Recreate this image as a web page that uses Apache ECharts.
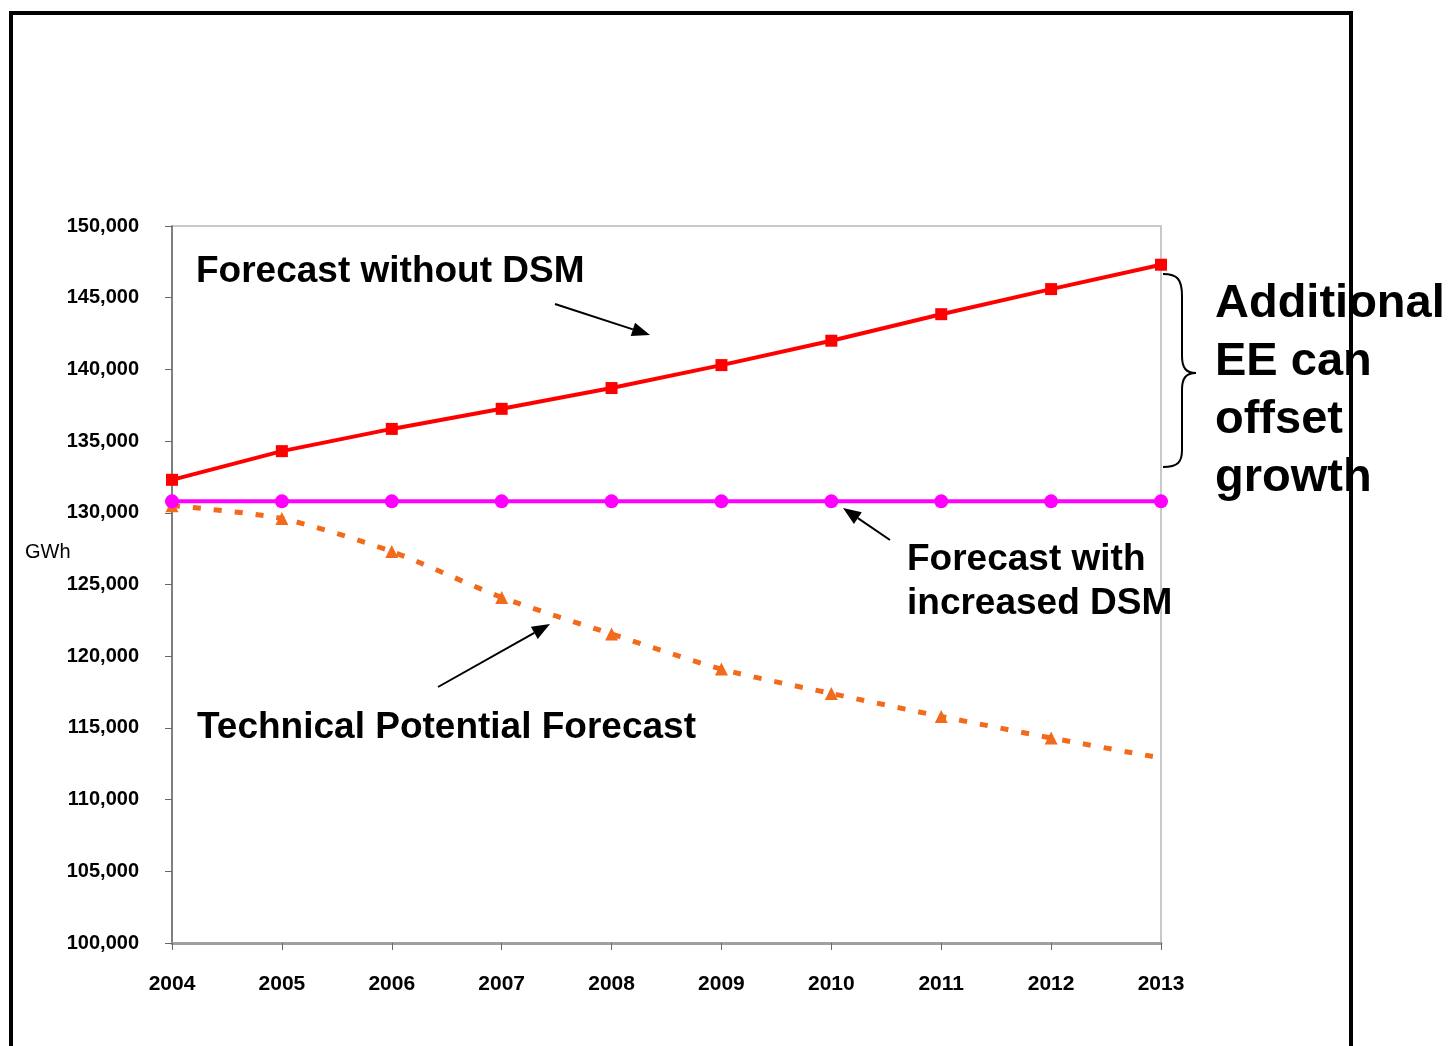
<!DOCTYPE html>
<html>
<head>
<meta charset="utf-8">
<script src="https://cdn.jsdelivr.net/npm/echarts@6/dist/echarts.min.js"></script>
<style>
  html, body { margin: 0; padding: 0; background: #fff; }
  #chart { width: 1450px; height: 1046px; }
</style>
</head>
<body>
<div id="chart"></div>
<script>
// data
const years = ['2004', '2005', '2006', '2007', '2008', '2009', '2010', '2011', '2012', '2013'];
const withoutDsm = [132300, 134300, 135850, 137250, 138700, 140300, 142000, 143850, 145600, 147300];
const increasedDsm = [130800, 130800, 130800, 130800, 130800, 130800, 130800, 130800, 130800, 130800];
const technicalPotential = [130500, 129600, 127300, 124100, 121550, 119100, 117400, 115800, 114300, 112900];

const FONT = '"Liberation Sans", Arial, sans-serif';

let myChart = echarts.init(document.getElementById('chart'));

// arrow = line + filled head
function arrow(x1, y1, x2, y2) {
  const ang = Math.atan2(y2 - y1, x2 - x1);
  const len = 18, half = 7;
  const bx = x2 - len * Math.cos(ang), by = y2 - len * Math.sin(ang);
  const px = -Math.sin(ang) * half, py = Math.cos(ang) * half;
  return [
    { type: 'line', z: 50, shape: { x1: x1, y1: y1, x2: bx, y2: by }, style: { stroke: '#000', lineWidth: 2 } },
    { type: 'polygon', z: 50, shape: { points: [[x2, y2], [bx + px, by + py], [bx - px, by - py]] }, style: { fill: '#000' } }
  ];
}

function label(text, x, y, size, weight) {
  return {
    type: 'text', z: 50, x: x, y: y,
    style: { text: text, font: (weight || 'bold') + ' ' + size + 'px ' + FONT, fill: '#000', textVerticalAlign: 'middle' }
  };
}

function curve(x1, y1, cx1, cy1, cx2, cy2, x2, y2) {
  return {
    type: 'bezierCurve', z: 50,
    shape: { x1: x1, y1: y1, cpx1: cx1, cpy1: cy1, cpx2: cx2, cpy2: cy2, x2: x2, y2: y2 },
    style: { stroke: '#000', lineWidth: 2, fill: 'none' }
  };
}

function seg(x1, y1, x2, y2) {
  return { type: 'line', z: 50, shape: { x1: x1, y1: y1, x2: x2, y2: y2 }, style: { stroke: '#000', lineWidth: 2 } };
}

const techData = technicalPotential.map((v, i) => i === technicalPotential.length - 1 ? { value: v, symbol: 'none' } : v);

let option = {
  backgroundColor: '#ffffff',
  animation: false,
  grid: {
    left: 172,
    right: 289,
    top: 226,
    bottom: 103,
    show: true,
    borderColor: '#b8b8b8',
    borderWidth: 1.5
  },
  xAxis: {
    type: 'category',
    data: years,
    boundaryGap: false,
    axisLine: { show: true, lineStyle: { color: '#a0a0a0', width: 3 } },
    axisTick: { show: true, alignWithLabel: true, length: 7, lineStyle: { color: '#666' } },
    axisLabel: { color: '#000', fontSize: 21, fontWeight: 'bold', fontFamily: FONT, margin: 31 },
    splitLine: { show: false }
  },
  yAxis: {
    type: 'value',
    min: 100000,
    max: 150000,
    interval: 5000,
    axisLine: { show: true, lineStyle: { color: '#666', width: 1.5 } },
    axisTick: { show: true, inside: false, length: 7, lineStyle: { color: '#666' } },
    axisLabel: {
      color: '#000', fontSize: 20, fontWeight: 'bold', fontFamily: FONT, margin: 33,
      formatter: (v) => v.toLocaleString('en-US')
    },
    splitLine: { show: false }
  },
  series: [
    {
      name: 'Forecast without DSM',
      type: 'line',
      data: withoutDsm,
      symbol: 'rect',
      symbolSize: 12,
      lineStyle: { color: '#ff0000', width: 4 },
      itemStyle: { color: '#ff0000' },
      z: 4
    },
    {
      name: 'Forecast with increased DSM',
      type: 'line',
      data: increasedDsm,
      symbol: 'circle',
      symbolSize: 14,
      lineStyle: { color: '#ff00ff', width: 4 },
      itemStyle: { color: '#ff00ff' },
      z: 3
    },
    {
      name: 'Technical Potential Forecast',
      type: 'line',
      data: techData,
      smooth: 0.25,
      symbol: 'triangle',
      symbolSize: 13,
      lineStyle: { color: '#f26b1d', width: 5, type: [8, 13], cap: 'butt' },
      itemStyle: { color: '#f26b1d' },
      z: 2
    }
  ],
  graphic: [
    label('Forecast without DSM', 196, 272, 37),
    label('Technical Potential Forecast', 197, 728, 37),
    label('Forecast with', 907, 560, 37),
    label('increased DSM', 907, 604, 37),
    label('Additional', 1215, 304, 47),
    label('EE can', 1215, 362, 47),
    label('offset', 1215, 420, 47),
    label('growth', 1215, 478, 47),
    label('GWh', 25, 552, 20, 'normal'),
    ...arrow(555, 304, 650, 335),
    ...arrow(890, 540, 843, 508),
    ...arrow(438, 687, 550, 624),
    // brace next to the 2013 gap
    curve(1163, 274, 1178, 274, 1182, 280, 1182, 296),
    seg(1182, 296, 1182, 356),
    curve(1182, 356, 1182, 368, 1186, 373, 1196, 373),
    curve(1196, 373, 1186, 373, 1182, 378, 1182, 390),
    seg(1182, 390, 1182, 450),
    curve(1182, 450, 1182, 462, 1178, 467, 1163, 467),
    {
      type: 'rect', z: 100,
      shape: { x: 11, y: 13, width: 1340, height: 1100 },
      style: { stroke: '#000', lineWidth: 4, fill: 'none' }
    }
  ]
};

option && myChart.setOption(option);
</script>
</body>
</html>
